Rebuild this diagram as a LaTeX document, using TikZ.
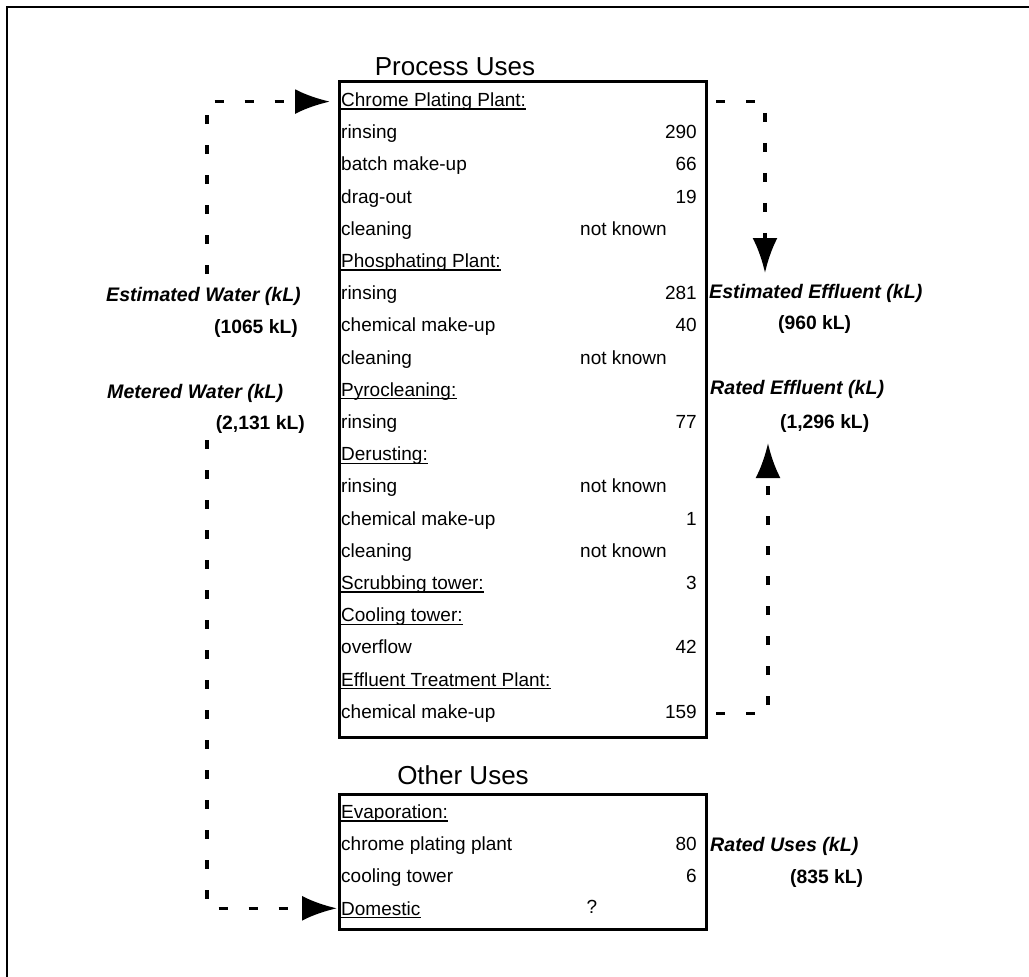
\documentclass[tikz,border=0pt]{standalone}
\usepackage{fontspec}
\setmainfont{Liberation Sans}
\usetikzlibrary{arrows.meta}
\begin{document}
\begin{tikzpicture}[x=1pt,y=-1pt,
  txt/.style={font=\fontsize{19}{21}\selectfont, inner sep=0pt, anchor=base west},
  num/.style={font=\fontsize{19}{21}\selectfont, inner sep=0pt, anchor=base east},
  lab/.style={font=\fontsize{19.6}{21}\selectfont\bfseries\itshape, inner sep=0pt, anchor=base west},
  val/.style={font=\fontsize{19.3}{21}\selectfont\bfseries, inner sep=0pt, anchor=base west},
  ttl/.style={font=\fontsize{26}{28}\selectfont, inner sep=0pt, anchor=base},
  boxst/.style={draw, line width=3.3pt, inner sep=0pt, anchor=north west},
  flow/.style={line width=3.5pt, dash pattern=on 9pt off 21pt, -{Latex[length=35pt,width=25pt]}},
  uline/.style={line width=1.2pt}
]
\useasboundingbox (0,0) rectangle (1029,977);
\draw[line width=1.3pt] (7,977) -- (7,7) -- (1029,7);

% titles
\node[ttl] (t1) at (455,75) {Process Uses};
\node[ttl] (t2) at (463,784) {Other Uses};

% boxes
\node[boxst, minimum width=367pt, minimum height=656pt] (pbox) at (338,80) {};
\node[boxst, minimum width=367pt, minimum height=135pt] (obox) at (338,793) {};

% process rows
\node[txt] (r1) at (341,106.5) {Chrome Plating Plant:};
\node[txt] (r2) at (341,138.7) {rinsing};
\node[num] (v2) at (697,138.7) {290};
\node[txt] (r3) at (341,170.9) {batch make-up};
\node[num] (v3) at (697,170.9) {66};
\node[txt] (r4) at (341,203.1) {drag-out};
\node[num] (v4) at (697,203.1) {19};
\node[txt] (r5) at (341,235.3) {cleaning};
\node[num] (v5) at (667,235.3) {not known};
\node[txt] (r6) at (341,267.5) {Phosphating Plant:};
\node[txt] (r7) at (341,299.7) {rinsing};
\node[num] (v7) at (697,299.7) {281};
\node[txt] (r8) at (341,331.9) {chemical make-up};
\node[num] (v8) at (697,331.9) {40};
\node[txt] (r9) at (341,364.1) {cleaning};
\node[num] (v9) at (667,364.1) {not known};
\node[txt] (r10) at (341,396.3) {Pyrocleaning:};
\node[txt] (r11) at (341,428.5) {rinsing};
\node[num] (v11) at (697,428.5) {77};
\node[txt] (r12) at (341,460.7) {Derusting:};
\node[txt] (r13) at (341,492.9) {rinsing};
\node[num] (v13) at (667,492.9) {not known};
\node[txt] (r14) at (341,525.1) {chemical make-up};
\node[num] (v14) at (697,525.1) {1};
\node[txt] (r15) at (341,557.3) {cleaning};
\node[num] (v15) at (667,557.3) {not known};
\node[txt] (r16) at (341,589.5) {Scrubbing tower:};
\node[num] (v16) at (697,589.5) {3};
\node[txt] (r17) at (341,621.7) {Cooling tower:};
\node[txt] (r18) at (341,653.9) {overflow};
\node[num] (v18) at (697,653.9) {42};
\node[txt] (r19) at (341,686.1) {Effluent Treatment Plant:};
\node[txt] (r20) at (341,718.3) {chemical make-up};
\node[num] (v20) at (697,718.3) {159};

% other rows
\node[txt] (o1) at (341,818.5) {Evaporation:};
\node[txt] (o2) at (341,850.7) {chrome plating plant};
\node[num] (w2) at (697,850.7) {80};
\node[txt] (o3) at (341,882.9) {cooling tower};
\node[num] (w3) at (697,882.9) {6};
\node[txt] (o4) at (341,915.1) {Domestic};
\node[txt, anchor=base] (w4) at (592,913) {?};

% underlines
\foreach \n in {r1,r6,r10,r12,r16,r17,r19,o1,o4}
  \draw[uline] ([yshift=-2.5pt]\n.base west) -- ([yshift=-2.5pt]\n.base east);

% side labels
\node[lab] (ew) at (106,301.5) {Estimated Water (kL)};
\node[val, anchor=base east] (ewv) at (298,333.5) {(1065 kL)};
\node[lab] (mw) at (107,398.5) {Metered Water (kL)};
\node[val, anchor=base east] (mwv) at (305,429.5) {(2,131 kL)};
\node[lab] (ee) at (709,298.5) {Estimated Effluent (kL)};
\node[val] (eev) at (778,329.5) {(960 kL)};
\node[lab] (re) at (710,394.5) {Rated Effluent (kL)};
\node[val] (rev) at (780,428.5) {(1,296 kL)};
\node[lab] (ru) at (710,851.5) {Rated Uses (kL)};
\node[val] (ruv) at (790,883.5) {(835 kL)};

% connector end points
\coordinate (wa) at (207,274);
\coordinate (wb) at (207,440);
\coordinate (eta) at (765,273);
\coordinate (etb) at (768,443);

% connectors
\draw[flow] (wa) |- ([xshift=-11pt]r1.west);
\draw[flow] (wb) |- ([xshift=-4pt]o4.west);
\draw[flow] ([xshift=8pt]pbox.east |- r1.west) -| (eta);
\draw[flow] ([xshift=8pt]pbox.east |- r20.west) -| (etb);
\end{tikzpicture}
\end{document}
